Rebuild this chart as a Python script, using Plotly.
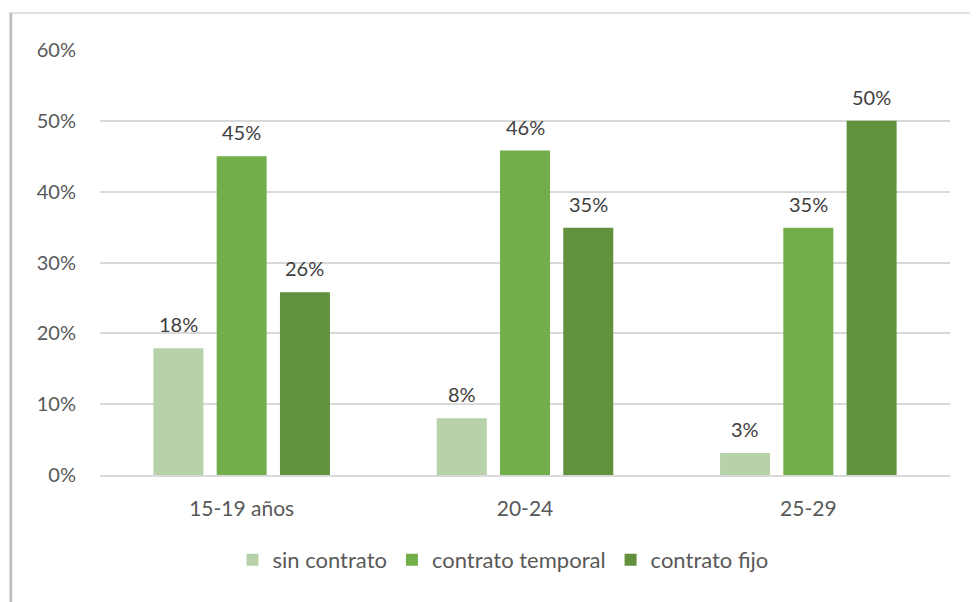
import plotly.graph_objects as go

categories = ["15-19 años", "20-24", "25-29"]
series_names = ["sin contrato", "contrato temporal", "contrato fijo"]
sin_contrato = [0.179, 0.08, 0.031]
contrato_temporal = [0.45, 0.458, 0.349]
contrato_fijo = [0.258, 0.349, 0.50]
y_ticks = [0, 0.1, 0.2, 0.3, 0.4, 0.5, 0.6]
y_tick_labels = ["0%", "10%", "20%", "30%", "40%", "50%", "60%"]

colors = ["#B7D2AA", "#72AF4A", "#61913D"]
FONT = "Lato"

W, H = 970, 594
ML, MR, MT, MB = 92, 28, 42, 127
BARGAP = 0.33
plot_w = W - ML - MR
plot_h = H - MT - MB

fig = go.Figure()
all_series = [sin_contrato, contrato_temporal, contrato_fijo]
for name, vals, col in zip(series_names, all_series, colors):
    fig.add_trace(go.Bar(
        x=categories, y=vals, name=name,
        marker=dict(color=col, line=dict(width=0)),
        hoverinfo="skip",
    ))

# data labels as annotations (to get Excel-like spacing above bars)
slot = plot_w / len(categories) * (1 - BARGAP) / len(all_series)
for i, vals in enumerate(all_series):
    shift = (i - (len(all_series) - 1) / 2) * slot
    for c, v in zip(categories, vals):
        fig.add_annotation(x=c, y=v, xref="x", yref="y", text=f"{v:.0%}",
                           showarrow=False, xshift=shift, yshift=10,
                           yanchor="bottom",
                           font=dict(family=FONT, size=20, color="#404040"))

fig.update_layout(
    width=W, height=H,
    margin=dict(l=ML, r=MR, t=MT, b=MB),
    paper_bgcolor="white", plot_bgcolor="white",
    barmode="group", bargap=BARGAP, bargroupgap=0.21,
    font=dict(family=FONT, color="#595959", size=20),
    showlegend=True,
    legend=dict(orientation="h", x=(503 - 100) / plot_w, xanchor="center",
                y=(475 - 560) / plot_h, yanchor="middle",
                font=dict(family=FONT, size=22, color="#595959"),
                traceorder="normal"),
    xaxis=dict(showgrid=False, showline=True, linecolor="#D9D9D9", linewidth=1.5,
               ticks="", tickfont=dict(family=FONT, size=21, color="#595959"),
               ticklabelstandoff=14),
    yaxis=dict(range=[0, 0.6], tickvals=y_ticks, ticktext=y_tick_labels,
               showgrid=True, gridcolor="#D9D9D9", gridwidth=1.5, zeroline=False,
               showline=False, ticks="", tickfont=dict(family=FONT, size=20, color="#595959"),
               ticklabelstandoff=23),
)

# chart border
fig.add_shape(type="rect", xref="paper", yref="paper",
              x0=(10 - 100) / plot_w, x1=(976 - 100) / plot_w,
              y0=(475 - 640) / plot_h, y1=(475 - 13) / plot_h,
              line=dict(color="#D9D9D9", width=1.5), layer="below")
fig.add_shape(type="line", xref="paper", yref="paper",
              x0=(11 - 100) / plot_w, x1=(11 - 100) / plot_w,
              y0=(475 - 640) / plot_h, y1=(475 - 13) / plot_h,
              line=dict(color="#BDBDBD", width=2.5), layer="below")

fig.write_html("out.html")
